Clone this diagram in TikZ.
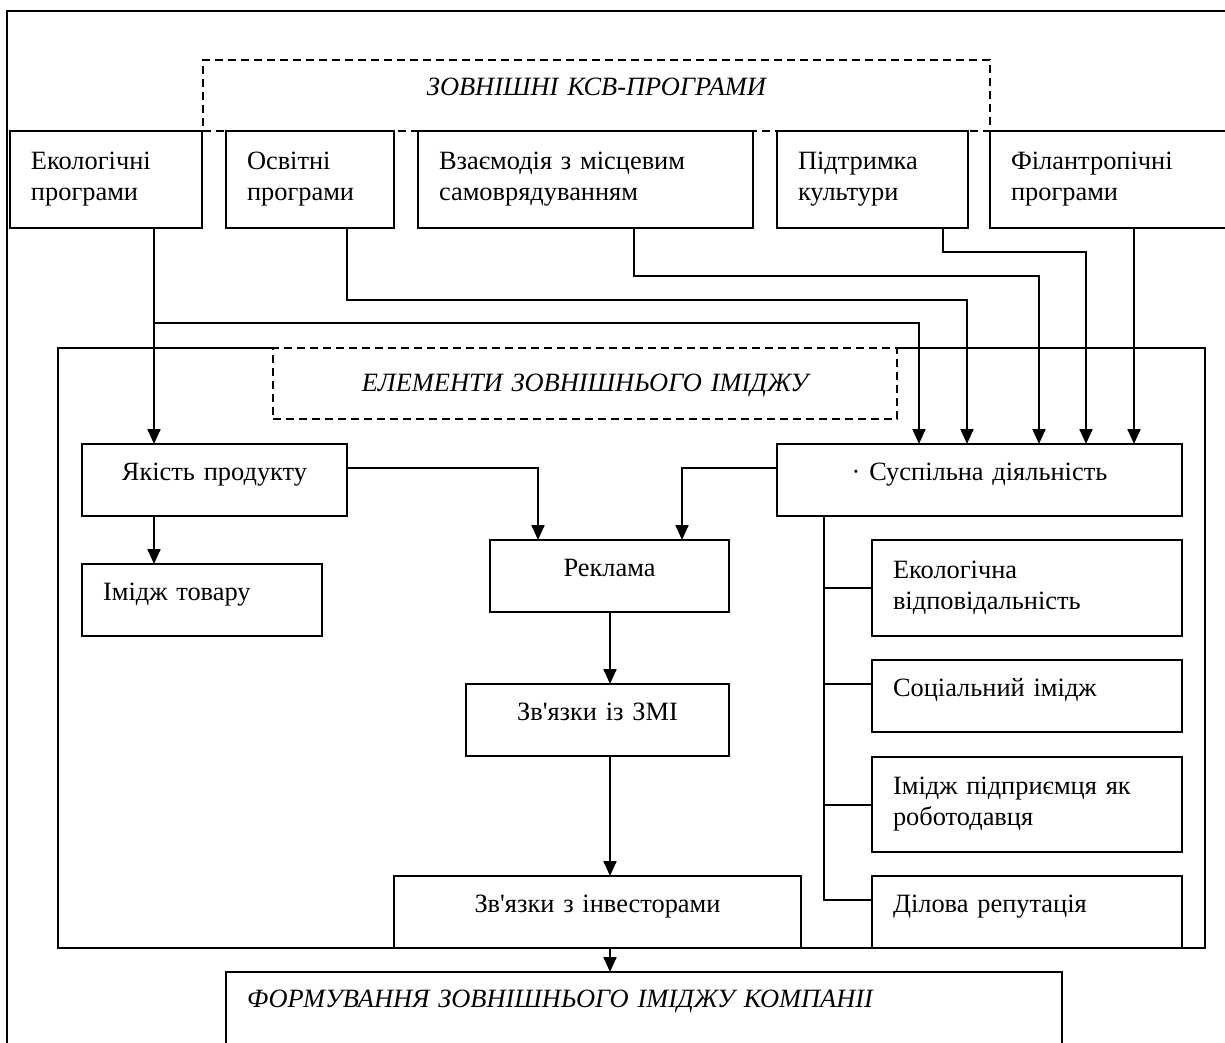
\documentclass[tikz,border=0pt]{standalone}
\usepackage{fontspec}
\setmainfont{Liberation Serif}[Ligatures=TeXOff]
\usetikzlibrary{arrows.meta}
\begin{document}
\begin{tikzpicture}[x=0.5pt,y=-0.5pt,
  every node/.style={font=\fontsize{13.2}{15.5}\selectfont},
  box/.style={draw,line width=0.8pt,outer sep=0pt,inner xsep=10.5pt,inner ysep=0pt},
  one/.style={text height=9pt,text depth=9pt},
  dbox/.style={box,dash pattern=on 4pt off 2.5pt,line width=0.6pt,align=center,
    font=\fontsize{13.2}{15.5}\selectfont\itshape},
  conn/.style={line width=1pt},
  arr/.style={conn,-{Triangle[length=7.5pt,width=6.5pt]}}]
\useasboundingbox (0,0) rectangle (1225,1043);
\clip (0,0) rectangle (1225,1043);
\draw[line width=1.1pt] (7,1100) -- (7,11) -- (1300,11);
% external CSR programmes
\node[dbox,text width=372.5pt,minimum height=35.5pt,one] (ksv) at (596.5,95.5) {ЗОВНІШНІ КСВ-ПРОГРАМИ};
\node[box,align=left,text width=75pt,minimum height=48.5pt] (eco) at (106,179.5) {Екологічні\\програми};
\node[box,align=left,text width=63pt,minimum height=48.5pt] (osv) at (310,179.5) {Освітні\\програми};
\node[box,align=left,text width=146.5pt,minimum height=48.5pt] (vzaem) at (585.5,179.5) {Взаємодія з місцевим\\самоврядуванням};
\node[box,align=left,text width=74.5pt,minimum height=48.5pt] (pidtr) at (872.5,179.5) {Підтримка\\культури};
\node[box,align=left,text width=104pt,minimum height=48.5pt] (filan) at (1115,179.5) {Філантропічні\\програми};
% elements of the external image
\node[dbox,text width=291pt,minimum height=35.5pt,text height=9pt,text depth=1.5pt] (elem) at (585,383.5) {ЕЛЕМЕНТИ ЗОВНІШНЬОГО ІМІДЖУ};
\node[box,align=center,text width=111.5pt,minimum height=36pt,one] (quality) at (214.5,480) {Якість продукту};
\node[box,align=left,text width=99pt,minimum height=36pt,one] (prodimg) at (202,600) {Імідж товару};
\node[box,align=center,text width=98.5pt,minimum height=36pt,one] (ads) at (609.5,576) {Реклама};
\node[box,align=center,text width=110.5pt,minimum height=36pt,one] (media) at (597.5,720) {Зв'язки із ЗМІ};
\node[box,align=center,text width=182.5pt,minimum height=36pt,one] (invest) at (597.5,912) {Зв'язки з інвесторами};
\node[box,align=center,text width=181.5pt,minimum height=36pt,one] (social) at (979.5,480) {· Суспільна діяльність};
\node[box,align=left,text width=134pt,minimum height=48pt] (ecoresp) at (1027,588) {Екологічна\\відповідальність};
\node[box,align=left,text width=134pt,minimum height=36pt,one] (socimg) at (1027,696) {Соціальний імідж};
\node[box,align=left,text width=134pt,minimum height=47.5pt] (employer) at (1027,804.5) {Імідж підприємця як\\роботодавця};
\node[box,align=left,text width=134pt,minimum height=36pt,one] (business) at (1027,912) {Ділова репутація};
\node[box,align=left,text width=397pt,minimum height=44pt,text height=9pt,text depth=18pt,
  font=\fontsize{13.2}{15.5}\selectfont\itshape] (formation) at (644,1016) {ФОРМУВАННЯ ЗОВНІШНЬОГО ІМІДЖУ КОМПАНІІ};
\draw[line width=0.8pt] (elem.north west) -- (58,348) -- (58,948) -- (1205,948) -- (1205,348) -- (elem.north east);
% programmes -> elements
\coordinate (ecojoin) at (154,323);
\draw[arr] (eco.south -| 154,0) -- (quality.north -| 154,0);
\draw[arr] (ecojoin) -| (social.north -| 919,0);
\draw[arr] (osv.south -| 347,0) -- ++(0,72) -| (social.north -| 967,0);
\draw[arr] (vzaem.south -| 634,0) -- ++(0,48) -| (social.north -| 1039,0);
\draw[arr] (pidtr.south -| 943,0) -- ++(0,24) -| (social.north -| 1086,0);
\draw[arr] (filan.south -| 1134,0) -- (social.north -| 1134,0);
% inside
\draw[arr] (quality.south -| 154,0) -- (prodimg.north -| 154,0);
\draw[arr] (quality.east |- 0,468) -| (ads.north -| 538,0);
\draw[arr] (social.west |- 0,468) -| (ads.north -| 682,0);
\draw[arr] (ads.south -| 610,0) -- (media.north -| 610,0);
\draw[arr] (media.south -| 610,0) -- (invest.north -| 610,0);
\draw[arr] (invest.south -| 610,0) -- (formation.north -| 610,0);
\draw[conn] (social.south -| 824,0) |- (ecoresp.west);
\draw[conn] (social.south -| 824,0) |- (socimg.west |- 0,684);
\draw[conn] (social.south -| 824,0) |- (employer.west);
\draw[conn] (social.south -| 824,0) |- (business.west |- 0,900);
\end{tikzpicture}
\end{document}
